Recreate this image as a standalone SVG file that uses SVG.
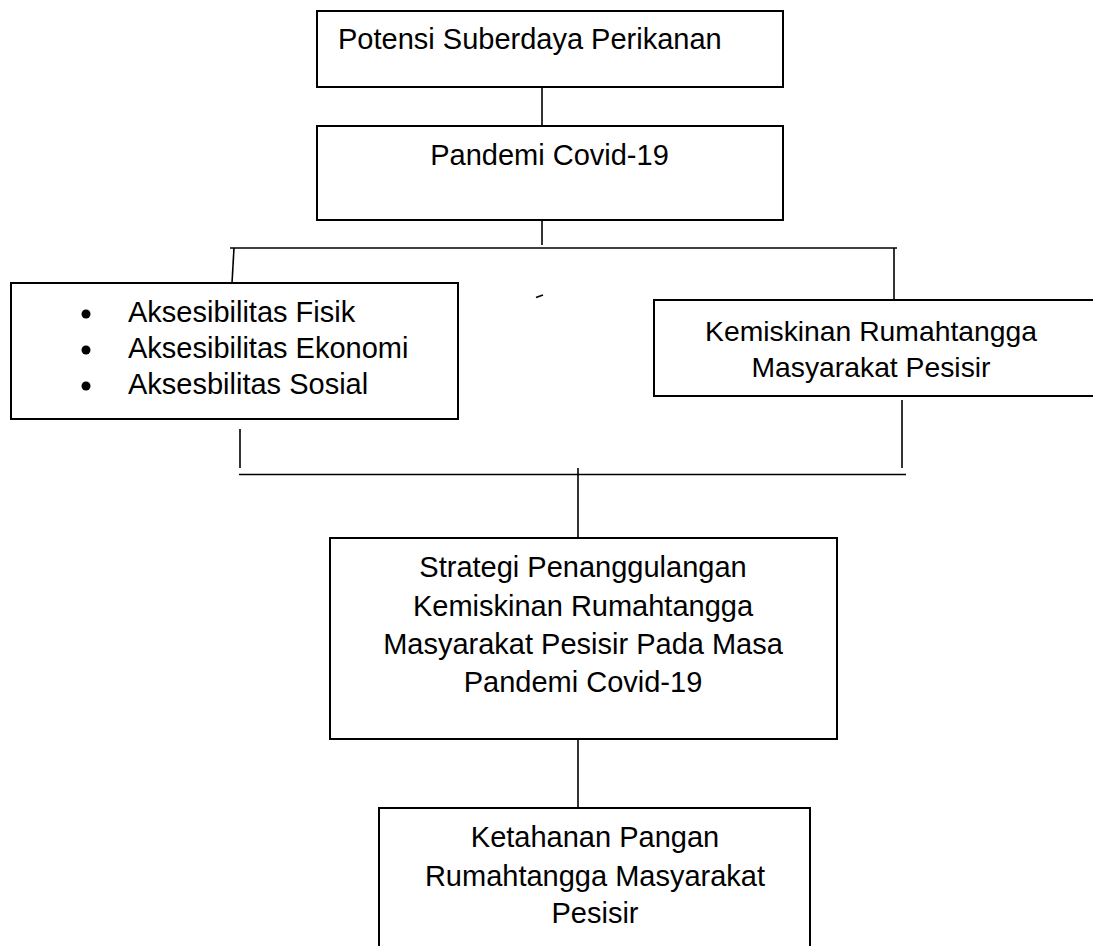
<svg xmlns="http://www.w3.org/2000/svg" width="1093" height="946" viewBox="0 0 1093 946">
<style>
.box{fill:#fff;stroke:#000;stroke-width:2}
.c{stroke:#000;stroke-width:1.6;fill:none}
text{font-family:"Liberation Sans",Arial,sans-serif;font-size:29px;fill:#000}
.m{text-anchor:middle}
</style>
<rect width="1093" height="946" fill="#fff"/>
<g id="connectors">
<line class="c" x1="542" y1="87" x2="542" y2="126"/>
<line class="c" x1="542" y1="220" x2="542" y2="245"/>
<line class="c" x1="230" y1="248" x2="897" y2="248"/>
<line class="c" x1="234" y1="248" x2="232" y2="283"/>
<line class="c" x1="894" y1="248" x2="894" y2="300"/>
<line class="c" x1="536" y1="297.5" x2="543" y2="295" stroke-width="2"/>
<line class="c" x1="240" y1="429" x2="240" y2="468"/>
<line class="c" x1="902" y1="400" x2="902" y2="468"/>
<line class="c" x1="239" y1="474.5" x2="906" y2="474.5"/>
<line class="c" x1="578" y1="468" x2="578" y2="538"/>
<line class="c" x1="578" y1="739" x2="578" y2="808"/>
</g>
<g id="n1">
<rect class="box" x="317" y="11" width="466" height="76"/>
<text x="338" y="49">Potensi Suberdaya Perikanan</text>
</g>
<g id="n2">
<rect class="box" x="317" y="126" width="466" height="94"/>
<text class="m" x="549.5" y="165">Pandemi Covid-19</text>
</g>
<g id="n3">
<rect class="box" x="11" y="283" width="447" height="136"/>
<circle cx="86" cy="314" r="4.5"/>
<circle cx="86" cy="350" r="4.5"/>
<circle cx="86" cy="386" r="4.5"/>
<text x="128" y="322">Aksesibilitas Fisik</text>
<text x="128" y="358">Aksesibilitas Ekonomi</text>
<text x="128" y="394">Aksesbilitas Sosial</text>
</g>
<g id="n4">
<rect class="box" x="654" y="300" width="460" height="96"/>
<text class="m" x="871" y="341" style="font-size:28.3px">Kemiskinan Rumahtangga</text>
<text class="m" x="871" y="377" style="font-size:28.3px">Masyarakat Pesisir</text>
</g>
<g id="n5">
<rect class="box" x="330" y="538" width="507" height="201"/>
<text class="m" x="583" y="577">Strategi Penanggulangan</text>
<text class="m" x="583" y="616">Kemiskinan Rumahtangga</text>
<text class="m" x="583" y="654">Masyarakat Pesisir Pada Masa</text>
<text class="m" x="583" y="692">Pandemi Covid-19</text>
</g>
<g id="n6">
<rect class="box" x="379" y="808" width="431" height="160"/>
<text class="m" x="595" y="847">Ketahanan Pangan</text>
<text class="m" x="595" y="886">Rumahtangga Masyarakat</text>
<text class="m" x="595" y="923">Pesisir</text>
</g>
</svg>
